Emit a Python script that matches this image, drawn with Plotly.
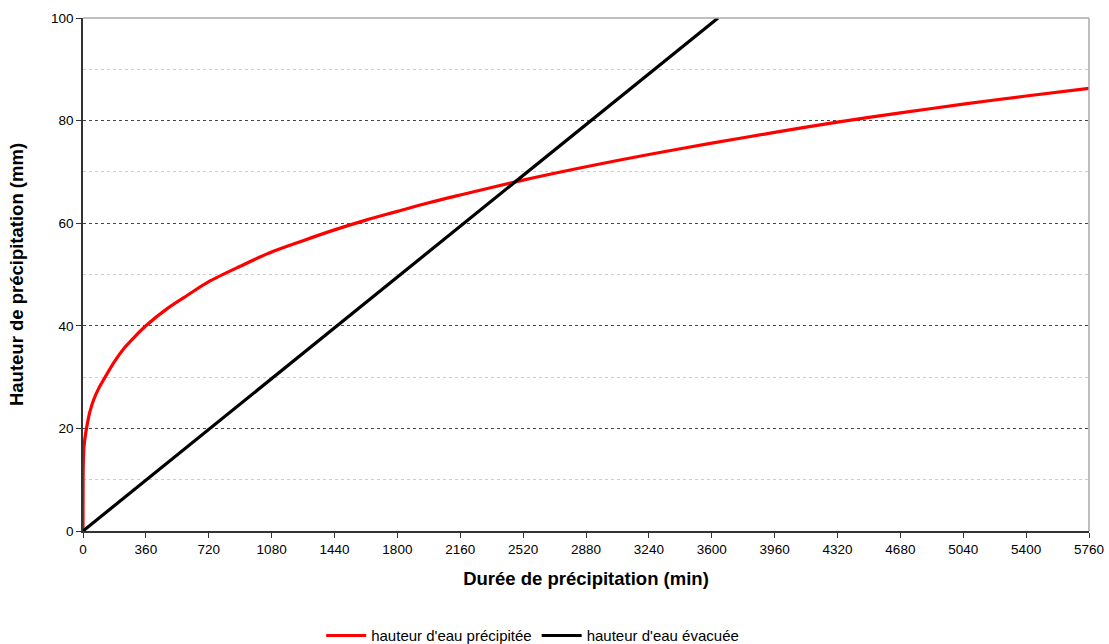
import plotly.graph_objects as go

# Durée (min) and hauteur précipitée (mm)
t_prec = [0, 0.5, 2, 6, 10, 20, 40, 60, 90, 120, 180, 240, 300, 360, 480, 600, 720,
          900, 1080, 1260, 1440, 1620, 1800, 1980, 2160, 2520, 2880, 3240, 3600,
          3960, 4320, 4680, 5040, 5400, 5760]
h_prec = [0, 10, 13.5, 16.5, 17.8, 20, 23.3, 25.5, 27.8, 29.6, 33, 35.8, 38, 40,
          43.3, 46, 48.6, 51.6, 54.4, 56.6, 58.7, 60.6, 62.3, 64, 65.5, 68.4, 71,
          73.4, 75.6, 77.7, 79.7, 81.5, 83.2, 84.8, 86.3]

# hauteur évacuée (mm): straight line
t_evac = [0, 3636]
h_evac = [0, 100]

x_ticks = list(range(0, 5761, 360))

fig = go.Figure()
fig.add_trace(go.Scatter(x=t_prec, y=h_prec, mode="lines",
                         line=dict(color="#ff0000", width=3.2, shape="spline", smoothing=0.8),
                         name="hauteur d'eau précipitée"))
fig.add_trace(go.Scatter(x=t_evac, y=h_evac, mode="lines",
                         line=dict(color="#000000", width=3.2),
                         name="hauteur d'eau évacuée"))

fig.update_layout(
    width=1109, height=644,
    margin=dict(l=83, r=20, t=18, b=113, autoexpand=False),
    paper_bgcolor="white", plot_bgcolor="white",
    font=dict(family="Liberation Sans, Arial, sans-serif", size=13, color="#000"),
    showlegend=True,
    legend=dict(orientation="h", x=0.447, xanchor="center", y=-0.172, yanchor="top",
                font=dict(size=15), itemwidth=40, tracegroupgap=0, itemclick=False),
    xaxis=dict(range=[0, 5760], tickvals=x_ticks, ticktext=[str(v) for v in x_ticks],
               automargin=False, ticklabeloverflow="allow",
               showgrid=False, zeroline=False, showline=True, linecolor="#333", linewidth=1.5,
               ticks="outside", ticklen=5, tickcolor="#333", tickfont=dict(size=13.5),
               title=dict(text="<b>Durée de précipitation (min)</b>", font=dict(size=18.5), standoff=16)),
    yaxis=dict(range=[0, 100], dtick=20, showgrid=True, gridcolor="#444", griddash="dot", gridwidth=1,
               automargin=False,
               zeroline=False, showline=True, linecolor="#333", linewidth=1.5,
               ticks="outside", ticklen=5, tickcolor="#333", tickfont=dict(size=13.5),
               minor=dict(dtick=10, showgrid=True, gridcolor="#cccccc", griddash="dot", gridwidth=1),
               title=dict(text="<b>Hauteur de précipitation (mm)</b>", font=dict(size=18.5), standoff=23)),
)
fig.add_shape(type="line", xref="paper", yref="paper", x0=0, x1=1, y0=1, y1=1,
              line=dict(color="#aaaaaa", width=1.5))
fig.add_shape(type="line", xref="paper", yref="paper", x0=1, x1=1, y0=0, y1=1,
              line=dict(color="#aaaaaa", width=1.5))

fig.write_html("out.html", config={"displayModeBar": False},
               post_script="document.body.style.margin='0px';document.body.style.overflow='hidden';")
